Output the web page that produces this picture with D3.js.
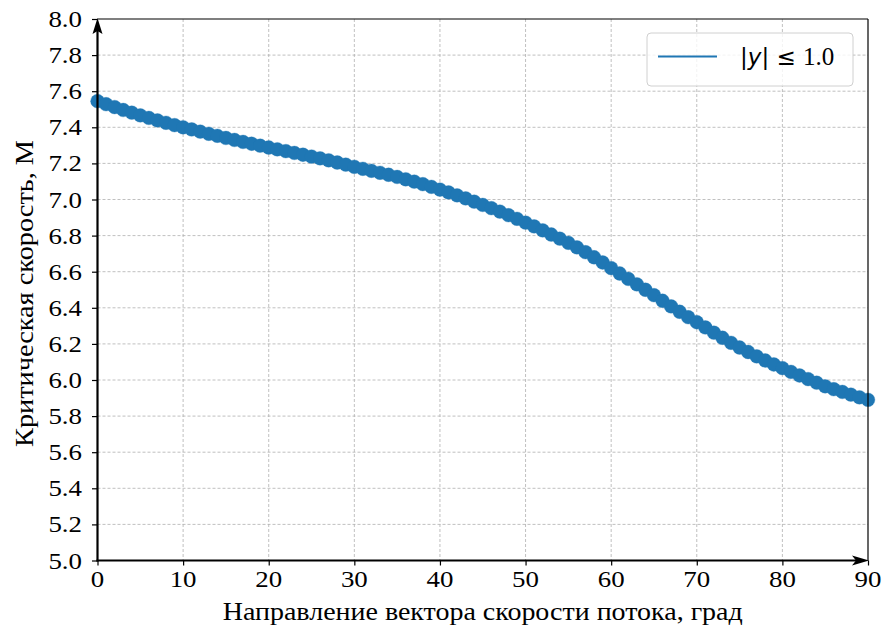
<!DOCTYPE html>
<html>
<head>
<meta charset="utf-8">
<script src="https://cdn.jsdelivr.net/npm/d3@7"></script>
<style>
  html, body { margin: 0; padding: 0; background: #fff; }
  svg { display: block; }
  svg text.lbl { font-family: "Liberation Serif", "Times New Roman", serif; }
</style>
</head>
<body>
<svg id="chart" width="884" height="634"></svg>
<script>
// Flow direction, degrees
const angles = d3.range(0, 91, 1);
// Critical speed, M, one value per degree
const critSpeed = [
  7.545, 7.528, 7.512, 7.496, 7.481, 7.466, 7.452, 7.438, 7.425, 7.412,
  7.400, 7.388, 7.376, 7.364, 7.353, 7.341, 7.330, 7.319, 7.309, 7.298,
  7.288, 7.278, 7.268, 7.258, 7.248, 7.238, 7.228, 7.217, 7.205, 7.193,
  7.181, 7.170, 7.159, 7.148, 7.137, 7.125, 7.112, 7.099, 7.085, 7.070,
  7.055, 7.039, 7.023, 7.006, 6.988, 6.970, 6.952, 6.933, 6.913, 6.893,
  6.872, 6.851, 6.829, 6.806, 6.783, 6.760, 6.735, 6.708, 6.680, 6.651,
  6.620, 6.590, 6.560, 6.530, 6.500, 6.470, 6.439, 6.408, 6.378, 6.348,
  6.320, 6.291, 6.262, 6.234, 6.206, 6.180, 6.155, 6.131, 6.108, 6.086,
  6.066, 6.045, 6.025, 6.005, 5.985, 5.965, 5.949, 5.934, 5.919, 5.904,
  5.890
];
const xTicks = d3.range(0, 91, 10);
const yTicks = d3.range(5.0, 8.001, 0.2).map(v => +v.toFixed(1));
const legendLabel = "1.0";
const xLabel = "Направление вектора скорости потока, град";
const yLabel = "Критическая скорость, М";

const color = "#1f77b4";
const sans = "DejaVu Sans, sans-serif";
const tickFont = 24, tickStretch = 1.12;

// Times-metric width of a numeric label: digits 0.5em, point 0.25em
const numWidth = s => [...s].reduce((w, c) => w + (c === "." ? 0.25 : 0.5), 0) * tickFont * tickStretch;

const svg = d3.select("#chart");
const L = 97.5, R = 868, T = 19, B = 560.5;

const x = d3.scaleLinear().domain([0, 90]).range([L, R]);
const y = d3.scaleLinear().domain([5.0, 8.0]).range([B, T]);
const fx = d3.format("d"), fy = d3.format(".1f");

// grid
const grid = svg.append("g")
  .attr("stroke", "#b0b0b0").attr("stroke-width", 0.8)
  .attr("stroke-dasharray", "3,2");
grid.selectAll("line.gx").data(xTicks.slice(1, -1)).join("line")
  .attr("x1", d => x(d)).attr("x2", d => x(d)).attr("y1", T).attr("y2", B);
grid.selectAll("line.gy").data(yTicks.slice(1, -1)).join("line")
  .attr("x1", L).attr("x2", R).attr("y1", d => y(d)).attr("y2", d => y(d));

// tick marks from the axis generators
const gx = svg.append("g").attr("transform", `translate(0,${B})`)
  .call(d3.axisBottom(x).tickValues(xTicks).tickSize(5).tickFormat(""));
const gy = svg.append("g").attr("transform", `translate(${L},0)`)
  .call(d3.axisLeft(y).tickValues(yTicks).tickSize(5.5).tickFormat(""));
[gx, gy].forEach(g => {
  g.select(".domain").remove();
  g.selectAll(".tick line").attr("stroke", "#000").attr("stroke-width", 1.2);
  g.selectAll(".tick text").remove();
});

// tick labels
svg.append("g").selectAll("text").data(xTicks).join("text")
  .attr("class", "lbl")
  .attr("x", d => x(d)).attr("y", B + 26.5)
  .attr("text-anchor", "middle").attr("font-size", tickFont).attr("fill", "#000")
  .attr("textLength", d => numWidth(fx(d))).attr("lengthAdjust", "spacingAndGlyphs")
  .text(fx);
svg.append("g").selectAll("text").data(yTicks).join("text")
  .attr("class", "lbl")
  .attr("x", L - 15.5).attr("y", d => y(d) + 8)
  .attr("text-anchor", "end").attr("font-size", tickFont).attr("fill", "#000")
  .attr("textLength", d => numWidth(fy(d))).attr("lengthAdjust", "spacingAndGlyphs")
  .text(fy);

// data: line with dense circular markers
const pts = angles.map((a, i) => [a, critSpeed[i]]);
svg.append("path").datum(pts)
  .attr("fill", "none").attr("stroke", color).attr("stroke-width", 1.5)
  .attr("d", d3.line().x(d => x(d[0])).y(d => y(d[1])));
svg.append("g").selectAll("circle").data(pts).join("circle")
  .attr("cx", d => x(d[0])).attr("cy", d => y(d[1])).attr("r", 6.9)
  .attr("fill", color).attr("stroke", color).attr("stroke-opacity", 0.4)
  .attr("stroke-width", 0.8);

// frame: thin top/right spines, heavy left/bottom spines with arrows
svg.append("line").attr("x1", L).attr("x2", R).attr("y1", T).attr("y2", T)
  .attr("stroke", "#000").attr("stroke-width", 1.2);
svg.append("line").attr("x1", R).attr("x2", R).attr("y1", T).attr("y2", B)
  .attr("stroke", "#000").attr("stroke-width", 1.2);
svg.append("line").attr("x1", L).attr("x2", L).attr("y1", B + 1).attr("y2", T + 10)
  .attr("stroke", "#000").attr("stroke-width", 2.2);
svg.append("line").attr("x1", L - 1).attr("x2", R - 10).attr("y1", B).attr("y2", B)
  .attr("stroke", "#000").attr("stroke-width", 2.2);
svg.append("path")
  .attr("d", `M${L},${T - 1} L${L - 5},${T + 15} L${L},${T + 12} L${L + 5},${T + 15} Z`)
  .attr("fill", "#000");
svg.append("path")
  .attr("d", `M${R + 1},${B} L${R - 16},${B - 5} L${R - 12},${B} L${R - 16},${B + 5} Z`)
  .attr("fill", "#000");

// axis titles
svg.append("text").attr("class", "lbl").attr("x", (L + R) / 2).attr("y", 620)
  .attr("text-anchor", "middle").attr("font-size", 25)
  .attr("textLength", 520).attr("lengthAdjust", "spacingAndGlyphs")
  .text(xLabel);
svg.append("text").attr("class", "lbl")
  .attr("transform", `translate(33,293.5) rotate(-90)`)
  .attr("text-anchor", "middle").attr("font-size", 25)
  .attr("textLength", 307).attr("lengthAdjust", "spacingAndGlyphs")
  .text(yLabel);

// legend
const lg = svg.append("g").attr("transform", "translate(647,33)");
lg.append("rect").attr("width", 206).attr("height", 53).attr("rx", 4)
  .attr("fill", "#fff").attr("fill-opacity", 0.8)
  .attr("stroke", "#d0d0d0").attr("stroke-width", 1);
lg.append("line").attr("x1", 11).attr("x2", 70).attr("y1", 23.5).attr("y2", 23.5)
  .attr("stroke", color).attr("stroke-width", 2);
const lt = lg.append("text").attr("x", 93).attr("y", 32).attr("fill", "#000");
lt.append("tspan").attr("font-family", sans).attr("font-size", 23).text("|");
lt.append("tspan").attr("font-family", sans).attr("font-size", 23).attr("font-style", "italic").text("y");
lt.append("tspan").attr("font-family", sans).attr("font-size", 23).text("| ≤ ");
lt.append("tspan").attr("class", "lbl").attr("font-size", 25).text(legendLabel);
</script>
</body>
</html>
